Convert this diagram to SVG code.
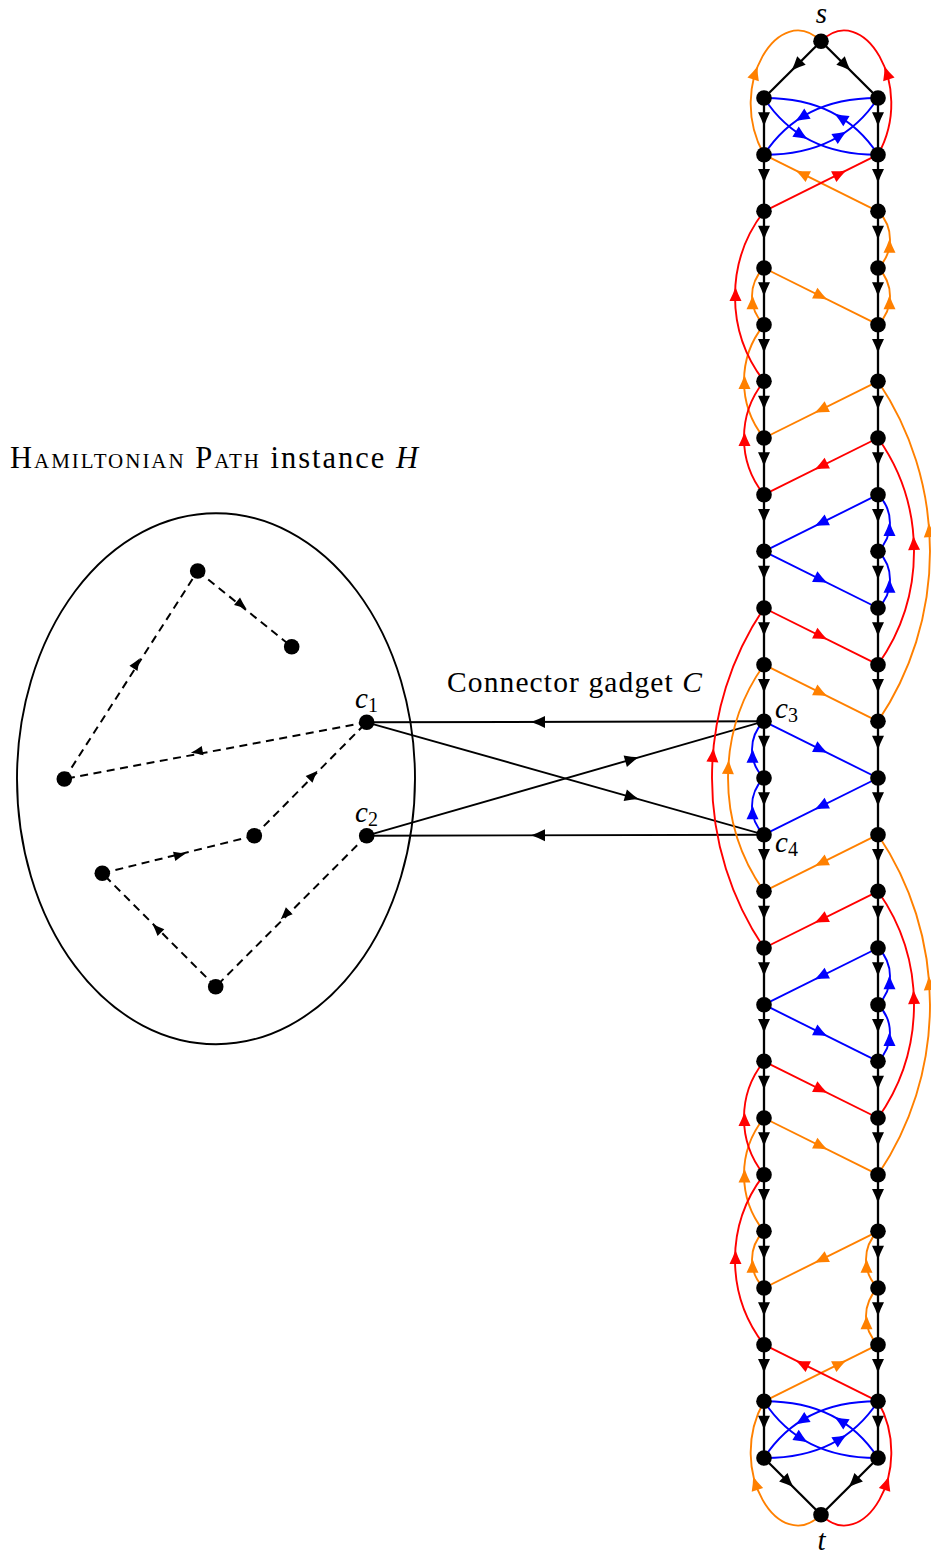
<svg xmlns="http://www.w3.org/2000/svg" xmlns:xlink="http://www.w3.org/1999/xlink" width="931" height="1553" viewBox="0 0 931 1553">
<style>
text{font-family:"Liberation Serif","DejaVu Serif",serif;fill:#000}
.k{stroke:#000;stroke-width:2.3;fill:none}
.cn{stroke:#000;stroke-width:1.9;fill:none}
.dsh{stroke:#000;stroke-width:2;fill:none;stroke-dasharray:8 5.5}
.o{stroke:#FF8000;stroke-width:1.9;fill:none}
.r{stroke:#FF0000;stroke-width:1.9;fill:none}
.b{stroke:#0000FF;stroke-width:1.9;fill:none}
.fo{fill:#FF8000}.fr{fill:#FF0000}.fb{fill:#0000FF}.fk{fill:#000}
.nd{fill:#000}
</style>
<defs>
<path id="ah" d="M7,0 Q0,-2.4 -7,-6 L-7,6 Q0,2.4 7,0Z"/>
<path id="as" d="M6,0 Q0,-2 -6,-4.8 L-6,4.8 Q0,2 6,0Z"/>
<path id="ahd" d="M0,7 Q2.4,0 6,-7 L-6,-7 Q-2.4,0 0,7Z"/>
<g id="colA" class="fk">
<use href="#ahd" y="119.3"/><use href="#ahd" y="176"/><use href="#ahd" y="232.7"/><use href="#ahd" y="289.3"/>
<use href="#ahd" y="346"/><use href="#ahd" y="402.7"/><use href="#ahd" y="459.3"/><use href="#ahd" y="516"/>
<use href="#ahd" y="572.7"/><use href="#ahd" y="629.3"/><use href="#ahd" y="686"/><use href="#ahd" y="742.7"/>
<use href="#ahd" y="799.3"/><use href="#ahd" y="856"/><use href="#ahd" y="912.7"/><use href="#ahd" y="969.3"/>
<use href="#ahd" y="1026"/><use href="#ahd" y="1082.7"/><use href="#ahd" y="1139.3"/><use href="#ahd" y="1196"/>
<use href="#ahd" y="1252.7"/><use href="#ahd" y="1309.3"/><use href="#ahd" y="1366"/><use href="#ahd" y="1422.7"/>
</g>
</defs>
<rect width="931" height="1553" fill="#fff"/>

<text x="10" y="468" font-size="30.5" textLength="408"><tspan font-variant="small-caps">Hamiltonian Path</tspan> instance <tspan font-style="italic">H</tspan></text>
<text x="447" y="692" font-size="29.5" textLength="255">Connector gadget <tspan font-style="italic">C</tspan></text>

<g id="instance-H">
<ellipse cx="216" cy="778.7" rx="199" ry="265.5" fill="none" stroke="#000" stroke-width="1.9"/>
</g>

<g id="connectors">
<path class="dsh" d="M64.3,779 L197.7,571"/>
<path class="dsh" d="M197.7,571 L291.7,646.7"/>
<path class="dsh" d="M366.7,722.3 L64.3,779"/>
<path class="dsh" d="M254.3,835.7 L366.7,722.3"/>
<path class="dsh" d="M102.3,873.3 L254.3,835.7"/>
<path class="dsh" d="M215.7,986.7 L102.3,873.3"/>
<path class="dsh" d="M366.7,835.7 L215.7,986.7"/>
<g class="fk">
<use href="#as" transform="translate(136.7,663.3) rotate(-57.3)"/>
<use href="#as" transform="translate(241.7,605) rotate(38.8)"/>
<use href="#as" transform="translate(196.7,751.7) rotate(169.4)"/>
<use href="#as" transform="translate(313.3,775) rotate(-45.3)"/>
<use href="#as" transform="translate(180,855) rotate(-13.9)"/>
<use href="#as" transform="translate(156.7,928.3) rotate(-135)"/>
<use href="#as" transform="translate(285,915) rotate(135)"/>
</g>
<path class="cn" d="M764,721.3 L366.7,722.3"/>
<path class="cn" d="M366.7,722.3 L764,834.7"/>
<path class="cn" d="M366.7,835.7 L764,721.3"/>
<path class="cn" d="M764,834.7 L366.7,835.7"/>
<g class="fk">
<use href="#ah" transform="translate(538,722) rotate(180)"/>
<use href="#ah" transform="translate(632,797.2) rotate(15.85)"/>
<use href="#ah" transform="translate(632,759.3) rotate(-16)"/>
<use href="#ah" transform="translate(538,835.2) rotate(180)"/>
</g>

<g class="o">
<path d="M764,154.7 C725,85 780,0 821,41.3"/>
<path d="M878,211.3 L764,154.7"/>
<path d="M878,324.7 A39.45,39.45 0 0 0 878,268"/>
<path d="M878,268 A39.45,39.45 0 0 0 878,211.3"/>
<path d="M764,268 L878,324.7"/>
<path d="M764,324.7 A39.45,39.45 0 0 1 764,268"/>
<path d="M764,438 A90.3,90.3 0 0 1 764,324.7"/>
<path d="M878,381.3 L764,438"/>
<path d="M878,721.3 A303.9,303.9 0 0 0 878,381.3"/>
<path d="M764,664.7 L878,721.3"/>
<path d="M764,891.3 A196.4,196.4 0 0 1 764,664.7"/>
<path d="M878,834.7 L764,891.3"/>
<path d="M878,1174.7 A303.9,303.9 0 0 0 878,834.7"/>
<path d="M764,1118 L878,1174.7"/>
<path d="M764,1231.3 A90.3,90.3 0 0 1 764,1118"/>
<path d="M764,1288 A39.45,39.45 0 0 1 764,1231.3"/>
<path d="M878,1231.3 L764,1288"/>
<path d="M878,1288 A39.45,39.45 0 0 1 878,1231.3"/>
<path d="M878,1344.7 A39.45,39.45 0 0 1 878,1288"/>
<path d="M764,1401.3 L878,1344.7"/>
<path d="M821,1514.7 C780,1556 725,1471 764,1401.3"/>
</g>
<g class="fo">
<use href="#ah" transform="translate(755.3,72.8) rotate(-72)"/>
<use href="#ah" transform="translate(802,173.6) rotate(-153.6)"/>
<use href="#ah" transform="translate(889.5,302.3) rotate(-90)"/>
<use href="#ah" transform="translate(889.5,245.7) rotate(-90)"/>
<use href="#ah" transform="translate(821,296.3) rotate(26.4)"/>
<use href="#ah" transform="translate(752.5,302.3) rotate(-90)"/>
<use href="#ah" transform="translate(744.5,382) rotate(-90)"/>
<use href="#ah" transform="translate(821,409.7) rotate(153.6)"/>
<use href="#ah" transform="translate(929.3,530) rotate(-94)"/>
<use href="#ah" transform="translate(821,693) rotate(26.4)"/>
<use href="#ah" transform="translate(728.3,767) rotate(-86.8)"/>
<use href="#ah" transform="translate(821,863) rotate(153.6)"/>
<use href="#ah" transform="translate(929.3,983) rotate(-94)"/>
<use href="#ah" transform="translate(821,1146.3) rotate(26.4)"/>
<use href="#ah" transform="translate(744.5,1175.5) rotate(-90)"/>
<use href="#ah" transform="translate(752.5,1265.7) rotate(-90)"/>
<use href="#ah" transform="translate(821,1259.7) rotate(153.6)"/>
<use href="#ah" transform="translate(866.5,1265.7) rotate(-90)"/>
<use href="#ah" transform="translate(866.5,1322.3) rotate(-90)"/>
<use href="#ah" transform="translate(840,1363.6) rotate(-26.4)"/>
<use href="#ah" transform="translate(755.3,1483.2) rotate(-107.7)"/>
</g>

<g class="r">
<path d="M878,154.7 C917,85 862,0 821,41.3"/>
<path d="M764,211.3 L878,154.7"/>
<path d="M764,381.3 A139.1,139.1 0 0 1 764,211.3"/>
<path d="M764,494.7 A90.3,90.3 0 0 1 764,381.3"/>
<path d="M878,438 L764,494.7"/>
<path d="M878,664.7 A196.4,196.4 0 0 0 878,438"/>
<path d="M764,608 L878,664.7"/>
<path d="M764,948 A303.9,303.9 0 0 1 764,608"/>
<path d="M878,891.3 L764,948"/>
<path d="M878,1118 A196.4,196.4 0 0 0 878,891.3"/>
<path d="M764,1061.3 L878,1118"/>
<path d="M764,1174.7 A90.3,90.3 0 0 1 764,1061.3"/>
<path d="M764,1344.7 A139.1,139.1 0 0 1 764,1174.7"/>
<path d="M878,1401.3 L764,1344.7"/>
<path d="M821,1514.7 C862,1556 917,1471 878,1401.3"/>
</g>
<g class="fr">
<use href="#ah" transform="translate(886.7,72.8) rotate(-108)"/>
<use href="#ah" transform="translate(840,173.6) rotate(-26.4)"/>
<use href="#ah" transform="translate(735.5,294) rotate(-90)"/>
<use href="#ah" transform="translate(744.5,439) rotate(-90)"/>
<use href="#ah" transform="translate(821,466.3) rotate(153.6)"/>
<use href="#ah" transform="translate(913.8,543) rotate(-92.4)"/>
<use href="#ah" transform="translate(821,636.3) rotate(26.4)"/>
<use href="#ah" transform="translate(712.9,755) rotate(-85.7)"/>
<use href="#ah" transform="translate(821,919.7) rotate(153.6)"/>
<use href="#ah" transform="translate(913.8,997) rotate(-92.2)"/>
<use href="#ah" transform="translate(821,1089.7) rotate(26.4)"/>
<use href="#ah" transform="translate(744.5,1119) rotate(-90)"/>
<use href="#ah" transform="translate(735.5,1257) rotate(-90)"/>
<use href="#ah" transform="translate(802,1363.6) rotate(-153.6)"/>
<use href="#ah" transform="translate(886.7,1483.2) rotate(-72.3)"/>
</g>

<g class="b">
<path d="M878,98 C830,97.7 790,114.7 764,154.7"/>
<path d="M878,154.7 C852,114.7 812,97.7 764,98"/>
<path d="M764,98 C790,138 830,155 878,154.7"/>
<path d="M764,154.7 C812,155 852,138 878,98"/>
<path d="M878,494.7 L764,551.3"/>
<path d="M764,551.3 L878,608"/>
<path d="M878,608 A39.45,39.45 0 0 0 878,551.3"/>
<path d="M878,551.3 A39.45,39.45 0 0 0 878,494.7"/>
<path d="M764,721.3 L878,778"/>
<path d="M878,778 L764,834.7"/>
<path d="M764,834.7 A39.45,39.45 0 0 1 764,778"/>
<path d="M764,778 A39.45,39.45 0 0 1 764,721.3"/>
<path d="M878,948 L764,1004.7"/>
<path d="M764,1004.7 L878,1061.3"/>
<path d="M878,1061.3 A39.45,39.45 0 0 0 878,1004.7"/>
<path d="M878,1004.7 A39.45,39.45 0 0 0 878,948"/>
<path d="M878,1401.3 C830,1401 790,1418 764,1458"/>
<path d="M878,1458 C852,1418 812,1401 764,1401.3"/>
<path d="M764,1401.3 C790,1441.3 830,1458.3 878,1458"/>
<path d="M764,1458 C812,1458.3 852,1441.3 878,1401.3"/>
</g>
<g class="fb">
<use href="#ah" transform="translate(801.5,117.4) rotate(148)"/>
<use href="#ah" transform="translate(840.5,117.4) rotate(-148)"/>
<use href="#ah" transform="translate(801.5,135.3) rotate(32)"/>
<use href="#ah" transform="translate(840.5,135.3) rotate(-32)"/>
<use href="#ah" transform="translate(821,523) rotate(153.6)"/>
<use href="#ah" transform="translate(821,579.7) rotate(26.4)"/>
<use href="#ah" transform="translate(889.5,585.7) rotate(-90)"/>
<use href="#ah" transform="translate(889.5,529) rotate(-90)"/>
<use href="#ah" transform="translate(821,749.7) rotate(26.4)"/>
<use href="#ah" transform="translate(821,806.3) rotate(153.6)"/>
<use href="#ah" transform="translate(752.5,812.3) rotate(-90)"/>
<use href="#ah" transform="translate(752.5,755.7) rotate(-90)"/>
<use href="#ah" transform="translate(821,976.3) rotate(153.6)"/>
<use href="#ah" transform="translate(821,1033) rotate(26.4)"/>
<use href="#ah" transform="translate(889.5,1039) rotate(-90)"/>
<use href="#ah" transform="translate(889.5,982.3) rotate(-90)"/>
<use href="#ah" transform="translate(801.5,1420.7) rotate(148)"/>
<use href="#ah" transform="translate(840.5,1420.7) rotate(-148)"/>
<use href="#ah" transform="translate(801.5,1438.6) rotate(32)"/>
<use href="#ah" transform="translate(840.5,1438.6) rotate(-32)"/>
</g>

<g class="k">
<path d="M764,98 V1458"/>
<path d="M878,98 V1458"/>
<path d="M821,41.3 L764,98"/>
<path d="M821,41.3 L878,98"/>
<path d="M764,1458 L821,1514.7"/>
<path d="M878,1458 L821,1514.7"/>
</g>
<use href="#colA" x="764"/>
<use href="#colA" x="878"/>
<g class="fk">
<use href="#ah" transform="translate(796.5,65.5) rotate(135)"/>
<use href="#ah" transform="translate(845.5,65.5) rotate(45)"/>
<use href="#ah" transform="translate(788.3,1482.1) rotate(45)"/>
<use href="#ah" transform="translate(853.7,1482.1) rotate(135)"/>
</g>
</g>

<g id="h1"><circle class="nd" cx="197.7" cy="571" r="7.8"/></g>
<g id="h2"><circle class="nd" cx="291.7" cy="646.7" r="7.8"/></g>
<g id="h3"><circle class="nd" cx="64.3" cy="779" r="7.8"/></g>
<g id="h4"><circle class="nd" cx="254.3" cy="835.7" r="7.8"/></g>
<g id="h5"><circle class="nd" cx="102.3" cy="873.3" r="7.8"/></g>
<g id="h6"><circle class="nd" cx="215.7" cy="986.7" r="7.8"/></g>
<g id="c1"><circle class="nd" cx="366.7" cy="722.3" r="7.8"/><text x="355" y="708" font-size="29"><tspan font-style="italic">c</tspan><tspan font-size="20" dy="4">1</tspan></text></g>
<g id="c2"><circle class="nd" cx="366.7" cy="835.7" r="7.8"/><text x="355" y="822" font-size="29"><tspan font-style="italic">c</tspan><tspan font-size="20" dy="4">2</tspan></text></g>

<g id="s"><circle class="nd" cx="821" cy="41.3" r="7.8"/><text x="821.5" y="23" font-size="29" font-style="italic" text-anchor="middle">s</text></g>
<g id="t"><circle class="nd" cx="821" cy="1514.7" r="7.8"/><text x="821.5" y="1550" font-size="29" font-style="italic" text-anchor="middle">t</text></g>
<g id="L0"><circle class="nd" cx="764" cy="98" r="7.8"/></g>
<g id="L1"><circle class="nd" cx="764" cy="154.7" r="7.8"/></g>
<g id="L2"><circle class="nd" cx="764" cy="211.3" r="7.8"/></g>
<g id="L3"><circle class="nd" cx="764" cy="268" r="7.8"/></g>
<g id="L4"><circle class="nd" cx="764" cy="324.7" r="7.8"/></g>
<g id="L5"><circle class="nd" cx="764" cy="381.3" r="7.8"/></g>
<g id="L6"><circle class="nd" cx="764" cy="438" r="7.8"/></g>
<g id="L7"><circle class="nd" cx="764" cy="494.7" r="7.8"/></g>
<g id="L8"><circle class="nd" cx="764" cy="551.3" r="7.8"/></g>
<g id="L9"><circle class="nd" cx="764" cy="608" r="7.8"/></g>
<g id="L10"><circle class="nd" cx="764" cy="664.7" r="7.8"/></g>
<g id="c3"><circle class="nd" cx="764" cy="721.3" r="7.8"/><text x="775" y="718" font-size="29"><tspan font-style="italic">c</tspan><tspan font-size="20" dy="4">3</tspan></text></g>
<g id="L12"><circle class="nd" cx="764" cy="778" r="7.8"/></g>
<g id="c4"><circle class="nd" cx="764" cy="834.7" r="7.8"/><text x="775" y="852" font-size="29"><tspan font-style="italic">c</tspan><tspan font-size="20" dy="4">4</tspan></text></g>
<g id="L14"><circle class="nd" cx="764" cy="891.3" r="7.8"/></g>
<g id="L15"><circle class="nd" cx="764" cy="948" r="7.8"/></g>
<g id="L16"><circle class="nd" cx="764" cy="1004.7" r="7.8"/></g>
<g id="L17"><circle class="nd" cx="764" cy="1061.3" r="7.8"/></g>
<g id="L18"><circle class="nd" cx="764" cy="1118" r="7.8"/></g>
<g id="L19"><circle class="nd" cx="764" cy="1174.7" r="7.8"/></g>
<g id="L20"><circle class="nd" cx="764" cy="1231.3" r="7.8"/></g>
<g id="L21"><circle class="nd" cx="764" cy="1288" r="7.8"/></g>
<g id="L22"><circle class="nd" cx="764" cy="1344.7" r="7.8"/></g>
<g id="L23"><circle class="nd" cx="764" cy="1401.3" r="7.8"/></g>
<g id="L24"><circle class="nd" cx="764" cy="1458" r="7.8"/></g>
<g id="R0"><circle class="nd" cx="878" cy="98" r="7.8"/></g>
<g id="R1"><circle class="nd" cx="878" cy="154.7" r="7.8"/></g>
<g id="R2"><circle class="nd" cx="878" cy="211.3" r="7.8"/></g>
<g id="R3"><circle class="nd" cx="878" cy="268" r="7.8"/></g>
<g id="R4"><circle class="nd" cx="878" cy="324.7" r="7.8"/></g>
<g id="R5"><circle class="nd" cx="878" cy="381.3" r="7.8"/></g>
<g id="R6"><circle class="nd" cx="878" cy="438" r="7.8"/></g>
<g id="R7"><circle class="nd" cx="878" cy="494.7" r="7.8"/></g>
<g id="R8"><circle class="nd" cx="878" cy="551.3" r="7.8"/></g>
<g id="R9"><circle class="nd" cx="878" cy="608" r="7.8"/></g>
<g id="R10"><circle class="nd" cx="878" cy="664.7" r="7.8"/></g>
<g id="R11"><circle class="nd" cx="878" cy="721.3" r="7.8"/></g>
<g id="R12"><circle class="nd" cx="878" cy="778" r="7.8"/></g>
<g id="R13"><circle class="nd" cx="878" cy="834.7" r="7.8"/></g>
<g id="R14"><circle class="nd" cx="878" cy="891.3" r="7.8"/></g>
<g id="R15"><circle class="nd" cx="878" cy="948" r="7.8"/></g>
<g id="R16"><circle class="nd" cx="878" cy="1004.7" r="7.8"/></g>
<g id="R17"><circle class="nd" cx="878" cy="1061.3" r="7.8"/></g>
<g id="R18"><circle class="nd" cx="878" cy="1118" r="7.8"/></g>
<g id="R19"><circle class="nd" cx="878" cy="1174.7" r="7.8"/></g>
<g id="R20"><circle class="nd" cx="878" cy="1231.3" r="7.8"/></g>
<g id="R21"><circle class="nd" cx="878" cy="1288" r="7.8"/></g>
<g id="R22"><circle class="nd" cx="878" cy="1344.7" r="7.8"/></g>
<g id="R23"><circle class="nd" cx="878" cy="1401.3" r="7.8"/></g>
<g id="R24"><circle class="nd" cx="878" cy="1458" r="7.8"/></g>
</svg>
